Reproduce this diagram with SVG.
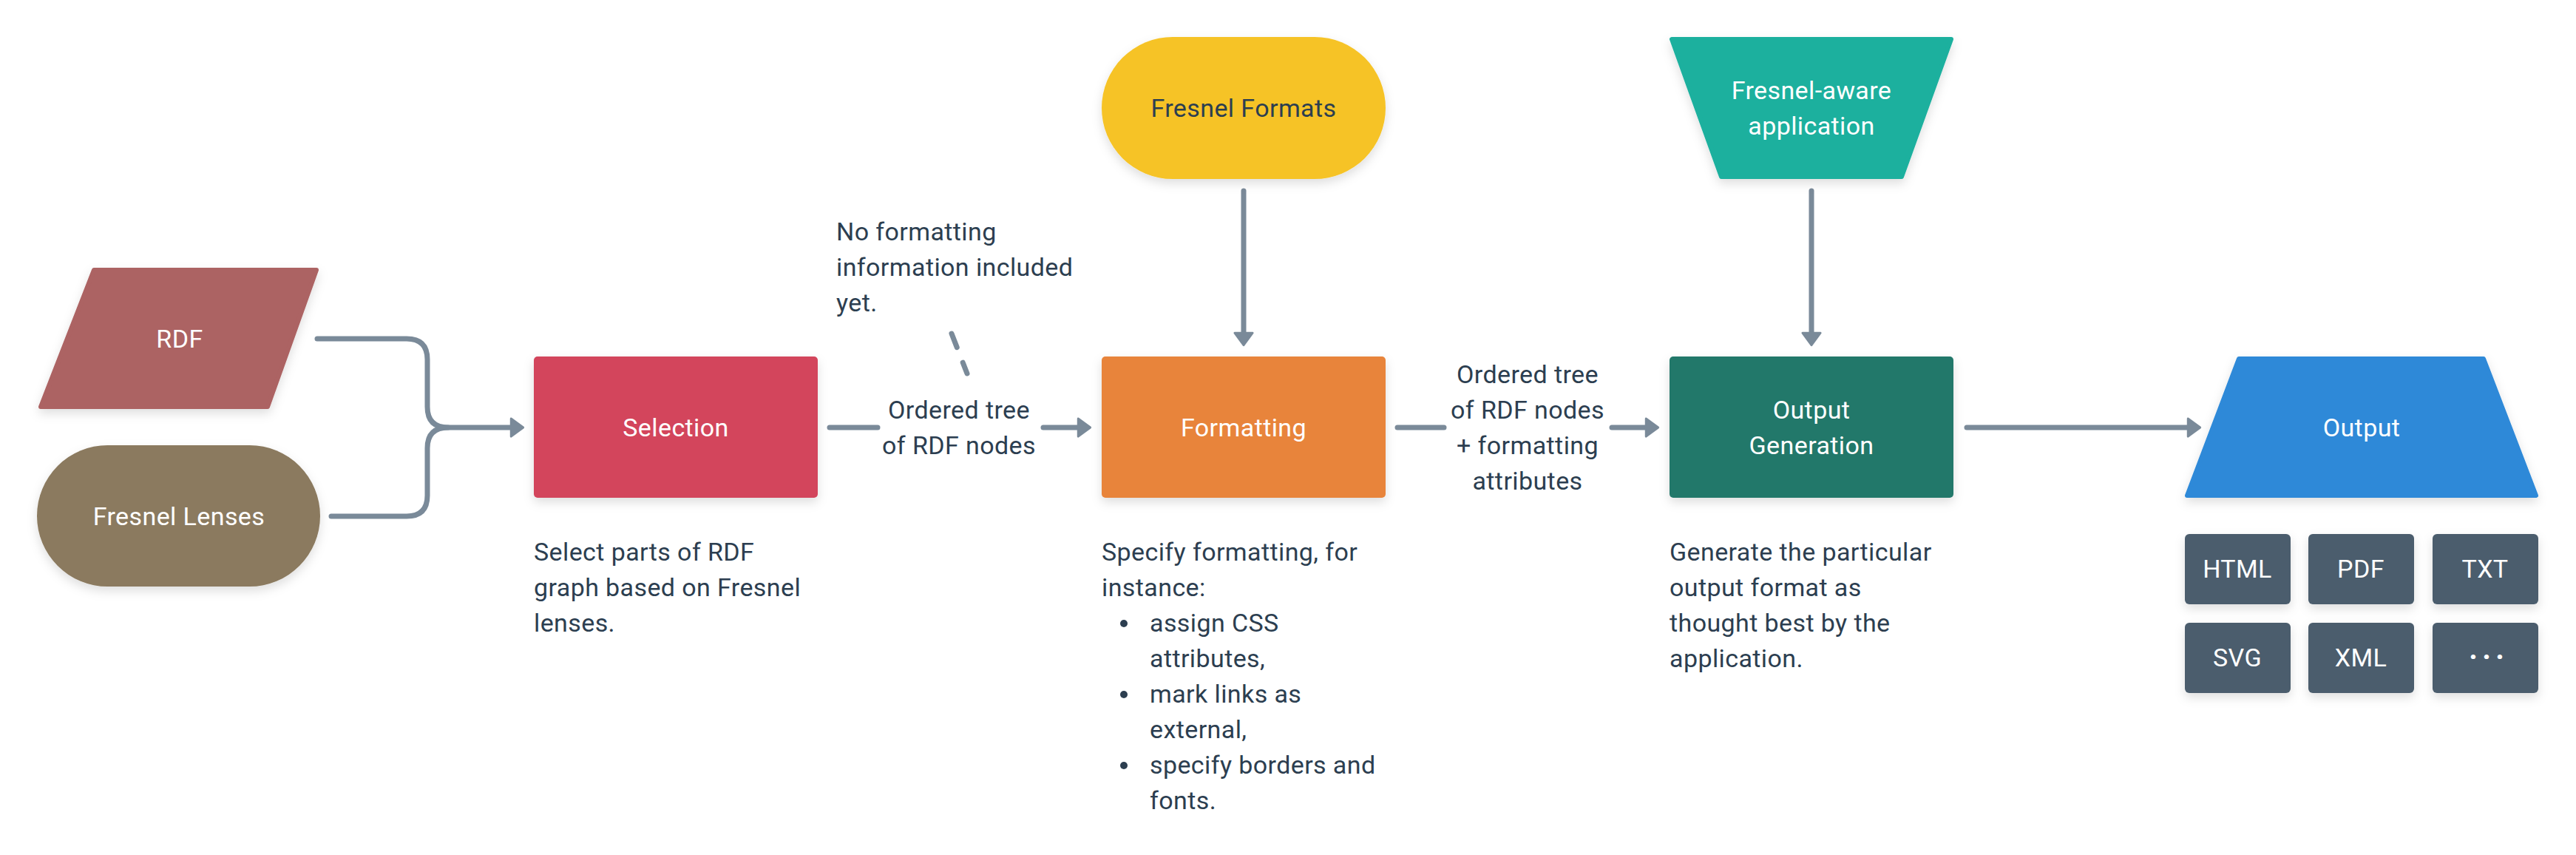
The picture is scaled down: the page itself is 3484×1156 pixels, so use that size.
<svg xmlns="http://www.w3.org/2000/svg" width="3484" height="1156" viewBox="0 0 3484 1156">
<defs>
<style>
text{font-family:Roboto,"Liberation Sans",sans-serif;font-size:34px;letter-spacing:0.4px;}
.w{fill:#ffffff;}
.d{fill:#2c3e50;}
.m{text-anchor:middle;}
.con{fill:none;stroke:#7a8a99;stroke-width:7;stroke-linecap:round;stroke-linejoin:round;}
.dash{stroke-dasharray:20 22;}
.sh{filter:url(#shadow);}
.fmt{fill:#4b5d6d;}
</style>
<filter id="shadow" x="-20%" y="-20%" width="140%" height="150%">
<feDropShadow dx="0" dy="6" stdDeviation="7" flood-color="#000" flood-opacity="0.13"/>
</filter>
<marker id="arr" markerUnits="userSpaceOnUse" markerWidth="30" markerHeight="30" viewBox="-3 -3 24 31" refX="7" refY="12.5" orient="auto">
<path d="M0,0 L17,12.5 L0,25 Z" fill="#7a8a99" stroke="#7a8a99" stroke-width="3" stroke-linejoin="round"/>
</marker>
</defs>
<rect width="3484" height="1156" fill="#ffffff"/>

<g id="connectors">
<path class="con" d="M429,458 H550 Q578,458 578,486 V550 Q578,578 606,578 H698" marker-end="url(#arr)"/>
<path class="con" d="M448,698 H550 Q578,698 578,670 V606 Q578,578 606,578"/>
<path class="con" d="M1122,578 H1187"/>
<path class="con" d="M1411,578 H1465" marker-end="url(#arr)"/>
<path class="con dash" d="M1287,451 L1308,505"/>
<path class="con" d="M1682,258 V457" marker-end="url(#arr)"/>
<path class="con" d="M1890,578 H1953"/>
<path class="con" d="M2180,578 H2233" marker-end="url(#arr)"/>
<path class="con" d="M2450,258 V457" marker-end="url(#arr)"/>
<path class="con" d="M2660,578 H2966" marker-end="url(#arr)"/>
</g>

<g id="rdf">
<polygon class="sh" points="127,365 428,365 362,550 55,550" fill="#ac6363" stroke="#ac6363" stroke-width="6" stroke-linejoin="round"/>
<text class="w m" x="243" y="470">RDF</text>
</g>

<g id="fresnel-lenses">
<rect class="sh" x="50" y="602" width="383" height="191" rx="95.5" ry="95.5" fill="#8b7a5e"/>
<text class="w m" x="242" y="710">Fresnel Lenses</text>
</g>

<g id="selection">
<rect class="sh" x="722" y="482" width="384" height="191" rx="5" fill="#d3455b"/>
<text class="w m" x="914" y="590">Selection</text>
</g>

<g id="selection-note">
<text class="d" x="722" y="758">Select parts of RDF</text>
<text class="d" x="722" y="806">graph based on Fresnel</text>
<text class="d" x="722" y="854">lenses.</text>
</g>

<g id="label-tree">
<text class="d m" x="1297" y="566">Ordered tree</text>
<text class="d m" x="1297" y="614">of RDF nodes</text>
</g>

<g id="no-formatting-note">
<text class="d" x="1131" y="325">No formatting</text>
<text class="d" x="1131" y="373">information included</text>
<text class="d" x="1131" y="421">yet.</text>
</g>

<g id="fresnel-formats">
<rect class="sh" x="1490" y="50" width="384" height="192" rx="96" ry="96" fill="#f6c328"/>
<text class="d m" x="1682" y="158">Fresnel Formats</text>
</g>

<g id="formatting">
<rect class="sh" x="1490" y="482" width="384" height="191" rx="5" fill="#e8843a"/>
<text class="w m" x="1682" y="590">Formatting</text>
</g>

<g id="formatting-note">
<text class="d" x="1490" y="758">Specify formatting, for</text>
<text class="d" x="1490" y="806">instance:</text>
<circle cx="1520" cy="843" r="5" fill="#2c3e50"/>
<text class="d" x="1555" y="854">assign CSS</text>
<text class="d" x="1555" y="902">attributes,</text>
<circle cx="1520" cy="939" r="5" fill="#2c3e50"/>
<text class="d" x="1555" y="950">mark links as</text>
<text class="d" x="1555" y="998">external,</text>
<circle cx="1520" cy="1035" r="5" fill="#2c3e50"/>
<text class="d" x="1555" y="1046">specify borders and</text>
<text class="d" x="1555" y="1094">fonts.</text>
</g>

<g id="label-tree-attrs">
<text class="d m" x="2066" y="518">Ordered tree</text>
<text class="d m" x="2066" y="566">of RDF nodes</text>
<text class="d m" x="2066" y="614">+ formatting</text>
<text class="d m" x="2066" y="662">attributes</text>
</g>

<g id="fresnel-aware-app">
<polygon class="sh" points="2261,53 2639,53 2572,239 2328,239" fill="#1cb09e" stroke="#1cb09e" stroke-width="6" stroke-linejoin="round"/>
<text class="w m" x="2450" y="134">Fresnel-aware</text>
<text class="w m" x="2450" y="182">application</text>
</g>

<g id="output-generation">
<rect class="sh" x="2258" y="482" width="384" height="191" rx="5" fill="#21786a"/>
<text class="w m" x="2450" y="566">Output</text>
<text class="w m" x="2450" y="614">Generation</text>
</g>

<g id="output-generation-note">
<text class="d" x="2258" y="758">Generate the particular</text>
<text class="d" x="2258" y="806">output format as</text>
<text class="d" x="2258" y="854">thought best by the</text>
<text class="d" x="2258" y="902">application.</text>
</g>

<g id="output">
<polygon class="sh" points="3028,485 3359,485 3430,670 2958,670" fill="#2e89d8" stroke="#2e89d8" stroke-width="6" stroke-linejoin="round"/>
<text class="w m" x="3194" y="590">Output</text>
</g>

<g id="fmt-html">
<rect class="sh fmt" x="2955" y="722" width="143" height="95" rx="6"/>
<text class="w m" x="3026" y="781">HTML</text>
</g>
<g id="fmt-pdf">
<rect class="sh fmt" x="3122" y="722" width="143" height="95" rx="6"/>
<text class="w m" x="3193" y="781">PDF</text>
</g>
<g id="fmt-txt">
<rect class="sh fmt" x="3290" y="722" width="143" height="95" rx="6"/>
<text class="w m" x="3361" y="781">TXT</text>
</g>
<g id="fmt-svg">
<rect class="sh fmt" x="2955" y="842" width="143" height="95" rx="6"/>
<text class="w m" x="3026" y="901">SVG</text>
</g>
<g id="fmt-xml">
<rect class="sh fmt" x="3122" y="842" width="143" height="95" rx="6"/>
<text class="w m" x="3193" y="901">XML</text>
</g>
<g id="fmt-more">
<rect class="sh fmt" x="3290" y="842" width="143" height="95" rx="6"/>
<text class="w m" x="3366" y="902" style="font-weight:bold;font-size:40px;letter-spacing:6px">···</text>
</g>
</svg>
